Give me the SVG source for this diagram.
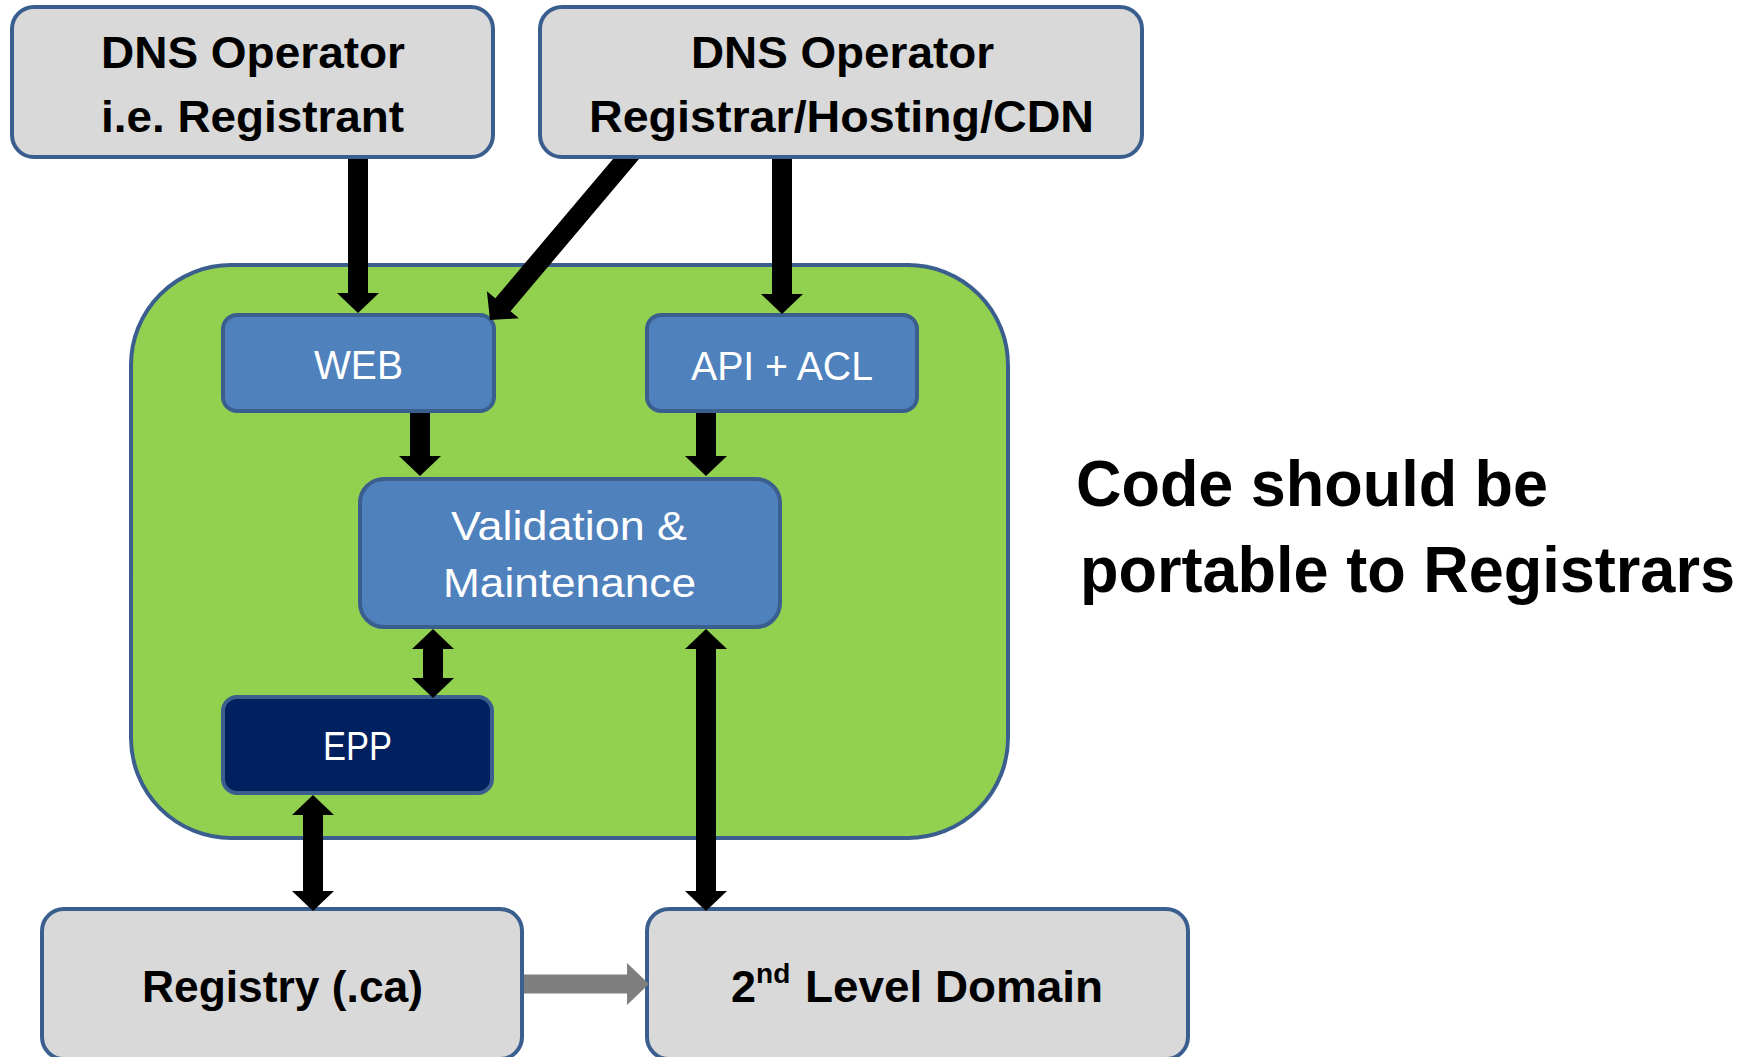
<svg xmlns="http://www.w3.org/2000/svg" width="1758" height="1057" viewBox="0 0 1758 1057">
<style>
.box{stroke:#3A5F8F;stroke-width:4}
.gray{fill:#D9D9D9}
.blue{fill:#4F81BD}
.navy{fill:#002060}
.green{fill:#92D050}
.t{font-family:"Liberation Sans",Arial,sans-serif;font-weight:bold;font-size:45px;fill:#000}
.w{font-family:"Liberation Sans",Arial,sans-serif;font-size:40px;fill:#fff}
.big{font-family:"Liberation Sans",Arial,sans-serif;font-weight:bold;font-size:64px;fill:#000}
.conn{stroke:#000;stroke-width:20;fill:none}
.gconn{stroke:#7F7F7F;stroke-width:19;fill:none}
</style>
<defs>
<marker id="ah" viewBox="0 0 20 42" refX="0" refY="21" markerWidth="20" markerHeight="42" markerUnits="userSpaceOnUse" orient="auto-start-reverse">
<path d="M0,0 L20,21 L0,42 z" fill="#000"/>
</marker>
<marker id="gh" viewBox="0 0 22 42" refX="0" refY="21" markerWidth="22" markerHeight="42" markerUnits="userSpaceOnUse" orient="auto">
<path d="M0,0 L22,21 L0,42 z" fill="#7F7F7F"/>
</marker>
</defs>

<g id="container">
<rect class="box green" x="131" y="265" width="877" height="573" rx="100"/>
</g>

<g id="dns-registrant">
<rect class="box gray" x="12" y="7" width="481" height="150" rx="22"/>
<text class="t" x="101" y="68" textLength="304" lengthAdjust="spacingAndGlyphs">DNS Operator</text>
<text class="t" x="101" y="132" textLength="303" lengthAdjust="spacingAndGlyphs">i.e. Registrant</text>
</g>

<g id="dns-registrar">
<rect class="box gray" x="540" y="7" width="602" height="150" rx="22"/>
<text class="t" x="691" y="68" textLength="303" lengthAdjust="spacingAndGlyphs">DNS Operator</text>
<text class="t" x="589" y="132" textLength="505" lengthAdjust="spacingAndGlyphs">Registrar/Hosting/CDN</text>
</g>

<g id="web">
<rect class="box blue" x="223" y="315" width="271" height="96" rx="14"/>
<text class="w" x="314" y="379" textLength="89" lengthAdjust="spacingAndGlyphs">WEB</text>
</g>

<g id="api">
<rect class="box blue" x="647" y="315" width="270" height="96" rx="14"/>
<text class="w" x="691" y="380" textLength="182" lengthAdjust="spacingAndGlyphs">API + ACL</text>
</g>

<g id="validation">
<rect class="box blue" x="360" y="479" width="420" height="148" rx="24"/>
<text class="w" x="451" y="540" textLength="236" lengthAdjust="spacingAndGlyphs">Validation &amp;</text>
<text class="w" x="443" y="597" textLength="253" lengthAdjust="spacingAndGlyphs">Maintenance</text>
</g>

<g id="epp">
<rect class="box navy" x="223" y="697" width="269" height="96" rx="14"/>
<text class="w" x="323" y="760" textLength="69" lengthAdjust="spacingAndGlyphs">EPP</text>
</g>

<g id="registry">
<rect class="box gray" x="42" y="909" width="480" height="150" rx="22"/>
<text class="t" x="142" y="1002" textLength="281" lengthAdjust="spacingAndGlyphs">Registry (.ca)</text>
</g>

<g id="second-level">
<rect class="box gray" x="647" y="909" width="541" height="150" rx="22"/>
<text class="t" x="731" y="1002">2<tspan font-size="28" dy="-19">nd</tspan><tspan dy="19" x="805" textLength="298" lengthAdjust="spacingAndGlyphs">Level Domain</tspan></text>
</g>

<g id="note">
<text class="big" x="1076" y="506" textLength="472" lengthAdjust="spacingAndGlyphs">Code should be</text>
<text class="big" x="1080" y="592" textLength="655" lengthAdjust="spacingAndGlyphs">portable to Registrars</text>
</g>

<g id="connectors">
<line class="conn" x1="358" y1="159" x2="358" y2="293" marker-end="url(#ah)"/>
<polygon points="613,159 639,159 510.5,311.2 518.9,318.2 490,320 486.9,291.2 495.3,298.3" fill="#000"/>
<line class="conn" x1="782" y1="159" x2="782" y2="294" marker-end="url(#ah)"/>
<line class="conn" x1="420" y1="413" x2="420" y2="456" marker-end="url(#ah)"/>
<line class="conn" x1="706" y1="413" x2="706" y2="456" marker-end="url(#ah)"/>
<line class="conn" x1="433" y1="649" x2="433" y2="678" marker-start="url(#ah)" marker-end="url(#ah)"/>
<line class="conn" x1="313" y1="815" x2="313" y2="891" marker-start="url(#ah)" marker-end="url(#ah)"/>
<line class="conn" x1="706" y1="649" x2="706" y2="891" marker-start="url(#ah)" marker-end="url(#ah)"/>
<line class="gconn" x1="524" y1="984" x2="627" y2="984" marker-end="url(#gh)"/>
</g>
</svg>
